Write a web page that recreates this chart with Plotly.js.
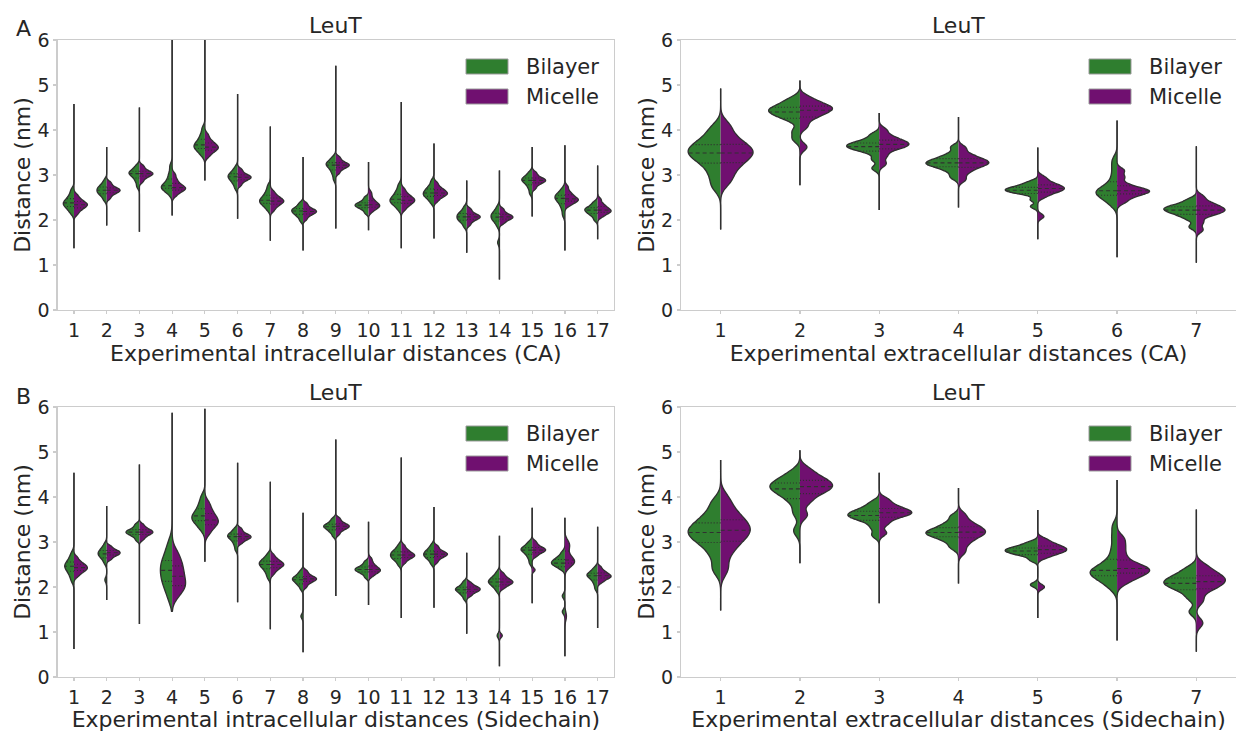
<!DOCTYPE html>
<html><head><meta charset="utf-8">
<script src="https://cdn.plot.ly/plotly-3.0.1.min.js"></script>
<style>html,body{margin:0;padding:0;background:#fff}#chart{width:1236px;height:732px}</style>
</head><body><div id="chart"></div>
<script>
// ---------------- data ----------------
const intraCats = [1,2,3,4,5,6,7,8,9,10,11,12,13,14,15,16,17];
const extraCats = [1,2,3,4,5,6,7];
const groupNames = ['Bilayer','Micelle'];
const panelTitle = 'LeuT';
const panelLetters = ['A','B'];
const yTitle = 'Distance (nm)';
const xTitles = ['Experimental intracellular distances (CA)','Experimental extracellular distances (CA)',
                 'Experimental intracellular distances (Sidechain)','Experimental extracellular distances (Sidechain)'];
const yTicks = [0,1,2,3,4,5,6];

// A, intracellular (CA): tail extent and sample values per distance (nm)
const caIntraMin = [1.37,1.88,1.74,2.10,2.88,2.03,1.54,1.32,1.81,1.77,1.37,1.59,1.27,0.68,2.08,1.32,1.57];
const caIntraMax = [4.58,3.62,4.50,6.20,6.20,4.80,4.08,3.40,5.43,3.29,4.62,3.70,2.88,3.10,3.62,3.66,3.21];
const caIntraBilayer = [
[2.15,2.23,2.28,2.32,2.35,2.38,2.41,2.45,2.50,2.57,2.67],
[2.44,2.52,2.57,2.60,2.63,2.66,2.69,2.72,2.75,2.80,2.88],
[2.74,2.84,2.91,2.96,3.00,3.03,3.05,3.07,3.10,3.15,3.21],
[2.58,2.65,2.69,2.72,2.74,2.76,2.81,2.87,2.95,3.05,3.20],
[3.44,3.52,3.57,3.61,3.64,3.67,3.71,3.76,3.83,3.91,4.04],
[2.70,2.79,2.85,2.89,2.93,2.96,2.98,3.01,3.05,3.09,3.17],
[2.23,2.31,2.35,2.39,2.42,2.44,2.48,2.52,2.58,2.65,2.76],
[1.98,2.06,2.11,2.14,2.17,2.20,2.22,2.24,2.27,2.32,2.38],
[2.90,3.01,3.08,3.14,3.18,3.22,3.24,3.26,3.29,3.34,3.40],
[2.15,2.22,2.26,2.29,2.31,2.33,2.35,2.37,2.40,2.45,2.51],
[2.24,2.32,2.37,2.40,2.43,2.46,2.50,2.54,2.60,2.67,2.78],
[2.38,2.46,2.51,2.54,2.57,2.60,2.63,2.67,2.71,2.77,2.87],
[1.85,1.93,1.98,2.01,2.04,2.07,2.10,2.13,2.16,2.21,2.29],
[1.50,1.86,1.94,1.99,2.02,2.05,2.08,2.11,2.14,2.17,2.22,2.30],
[2.59,2.69,2.76,2.81,2.85,2.88,2.90,2.92,2.95,3.00,3.06],
[2.11,2.24,2.33,2.39,2.44,2.48,2.50,2.53,2.57,2.61,2.69],
[2.00,2.08,2.13,2.16,2.19,2.22,2.24,2.26,2.29,2.34,2.40]
];
const caIntraMicelle = [
[2.13,2.21,2.25,2.29,2.32,2.34,2.36,2.39,2.43,2.47,2.55],
[2.48,2.55,2.59,2.62,2.64,2.66,2.68,2.70,2.73,2.78,2.84],
[2.85,2.92,2.96,2.99,3.01,3.03,3.05,3.07,3.10,3.15,3.21],
[2.54,2.61,2.65,2.68,2.70,2.72,2.75,2.79,2.84,2.91,3.01],
[3.41,3.49,3.53,3.57,3.60,3.62,3.65,3.69,3.73,3.79,3.89],
[2.77,2.84,2.88,2.91,2.93,2.95,2.97,2.99,3.02,3.07,3.13],
[2.21,2.29,2.33,2.37,2.40,2.42,2.44,2.47,2.51,2.55,2.63],
[2.01,2.08,2.12,2.15,2.17,2.19,2.21,2.23,2.26,2.31,2.37],
[3.04,3.11,3.15,3.18,3.20,3.22,3.24,3.26,3.29,3.34,3.40],
[2.18,2.23,2.27,2.29,2.31,2.33,2.35,2.38,2.42,2.46,2.54,2.62],
[2.23,2.31,2.35,2.39,2.42,2.44,2.47,2.50,2.54,2.59,2.68],
[2.42,2.49,2.53,2.56,2.58,2.60,2.63,2.66,2.69,2.74,2.82],
[1.89,1.96,2.00,2.03,2.05,2.07,2.09,2.11,2.14,2.19,2.25],
[1.92,1.97,2.01,2.03,2.05,2.07,2.09,2.11,2.14,2.19,2.25],
[2.70,2.77,2.81,2.84,2.86,2.88,2.90,2.92,2.95,3.00,3.06],
[2.32,2.37,2.41,2.43,2.45,2.47,2.50,2.54,2.58,2.64,2.74],
[2.07,2.12,2.16,2.18,2.20,2.22,2.25,2.28,2.32,2.37,2.46]
];

// A, extracellular (CA)
const caExtraMin = [1.79,2.77,2.22,2.28,1.57,1.17,1.05];
const caExtraMax = [4.92,5.10,4.38,4.29,3.61,4.21,3.64];
const caExtraBilayer = [
[2.75,3.00,3.20,3.33,3.42,3.49,3.56,3.63,3.72,3.85,4.05],
[3.80,3.98,4.22,4.30,4.36,4.40,4.44,4.48,4.53,4.60,4.70],
[3.15,3.35,3.50,3.56,3.60,3.63,3.66,3.69,3.73,3.79,3.90],
[2.95,3.08,3.16,3.21,3.24,3.27,3.30,3.34,3.39,3.47,3.62],
[2.30,2.45,2.57,2.61,2.64,2.66,2.68,2.71,2.74,2.78,2.85],
[2.33,2.43,2.50,2.55,2.59,2.62,2.65,2.69,2.75,2.85,3.00,3.18,3.35],
[1.85,2.02,2.10,2.15,2.19,2.22,2.25,2.28,2.31,2.36,2.45]
];
const caExtraMicelle = [
[2.85,3.06,3.22,3.33,3.42,3.49,3.56,3.63,3.73,3.88,4.10],
[3.62,4.08,4.25,4.33,4.39,4.44,4.48,4.51,4.55,4.62,4.72],
[3.25,3.42,3.55,3.61,3.65,3.68,3.71,3.75,3.80,3.87,4.00],
[2.90,3.05,3.14,3.20,3.24,3.27,3.30,3.34,3.39,3.46,3.60],
[2.08,2.52,2.60,2.64,2.67,2.70,2.73,2.76,2.80,2.86,2.95],
[2.40,2.50,2.56,2.60,2.63,2.65,2.68,2.72,2.80,2.95,3.10],
[1.78,1.95,2.10,2.15,2.19,2.22,2.25,2.29,2.34,2.40,2.52]
];

// B, intracellular (Sidechain)
const scIntraMin = [0.62,1.71,1.18,1.46,2.56,1.66,1.06,0.55,1.80,1.60,1.31,1.54,0.96,0.24,1.64,0.46,1.09];
const scIntraMax = [4.54,3.80,4.72,5.87,5.96,4.76,4.34,3.65,5.28,3.45,4.88,3.78,2.76,3.14,3.76,3.54,3.34];
const scIntraBilayer = [
[2.14,2.25,2.32,2.38,2.42,2.46,2.49,2.53,2.58,2.65,2.75],
[2.16,2.53,2.61,2.66,2.69,2.72,2.75,2.77,2.80,2.84,2.88,2.96],
[3.04,3.11,3.15,3.18,3.20,3.22,3.24,3.26,3.29,3.34,3.40],
[1.75,1.95,2.08,2.17,2.27,2.37,2.45,2.54,2.64,2.78,2.98],
[3.28,3.38,3.45,3.50,3.54,3.58,3.63,3.70,3.78,3.88,4.02],
[2.83,2.93,3.00,3.05,3.09,3.12,3.14,3.16,3.19,3.24,3.30],
[2.21,2.31,2.38,2.43,2.47,2.50,2.53,2.56,2.59,2.64,2.72],
[1.35,1.96,2.04,2.08,2.12,2.15,2.17,2.19,2.21,2.24,2.29,2.35],
[3.13,3.21,3.25,3.29,3.32,3.34,3.36,3.38,3.41,3.46,3.52],
[2.21,2.28,2.32,2.35,2.37,2.39,2.41,2.43,2.46,2.51,2.57],
[2.49,2.57,2.62,2.65,2.68,2.71,2.74,2.77,2.80,2.85,2.93],
[2.51,2.59,2.64,2.67,2.70,2.73,2.75,2.78,2.82,2.86,2.94],
[1.73,1.81,1.85,1.89,1.92,1.94,1.96,1.98,2.01,2.06,2.12],
[0.92,1.91,1.99,2.03,2.07,2.10,2.12,2.14,2.17,2.21,2.25,2.33],
[2.53,2.63,2.70,2.75,2.79,2.82,2.84,2.86,2.89,2.94,3.00],
[1.45,1.80,2.40,2.45,2.49,2.51,2.53,2.55,2.58,2.61,2.64,2.69,2.77],
[1.96,2.06,2.13,2.18,2.22,2.25,2.27,2.29,2.32,2.37,2.43]
];
const scIntraMicelle = [
[2.24,2.31,2.35,2.38,2.41,2.43,2.46,2.49,2.52,2.57,2.65],
[2.61,2.66,2.70,2.72,2.74,2.76,2.78,2.80,2.82,2.86,2.91],
[3.05,3.11,3.15,3.18,3.20,3.22,3.24,3.26,3.29,3.33,3.39],
[1.80,1.93,2.00,2.06,2.14,2.24,2.32,2.42,2.52,2.63,2.78],
[3.18,3.29,3.36,3.41,3.45,3.49,3.54,3.60,3.67,3.76,3.88],
[2.97,3.02,3.06,3.08,3.10,3.12,3.14,3.16,3.19,3.24,3.30],
[2.29,2.37,2.41,2.45,2.48,2.50,2.52,2.55,2.59,2.63,2.71],
[2.00,2.07,2.11,2.14,2.16,2.18,2.20,2.22,2.25,2.30,2.36],
[3.17,3.24,3.28,3.31,3.33,3.35,3.37,3.39,3.42,3.47,3.53],
[2.24,2.29,2.33,2.35,2.37,2.39,2.42,2.45,2.49,2.55,2.63],
[2.53,2.60,2.64,2.67,2.69,2.71,2.73,2.76,2.80,2.84,2.92],
[2.55,2.62,2.66,2.69,2.71,2.73,2.75,2.77,2.80,2.85,2.91],
[1.80,1.85,1.89,1.91,1.93,1.95,1.97,1.99,2.01,2.05,2.10],
[0.92,1.97,2.02,2.06,2.08,2.10,2.12,2.14,2.17,2.20,2.25,2.31],
[2.38,2.68,2.73,2.77,2.79,2.81,2.83,2.85,2.87,2.90,2.95,3.01],
[1.35,2.46,2.50,2.53,2.56,2.58,2.60,2.63,2.70,2.80,2.90,2.95,3.00],
[2.10,2.15,2.19,2.21,2.23,2.25,2.27,2.30,2.33,2.37,2.44]
];

// B, extracellular (Sidechain)
const scExtraMin = [1.48,2.53,1.64,2.08,1.31,0.81,0.56];
const scExtraMax = [4.82,5.04,4.54,4.20,3.71,4.38,3.72];
const scExtraBilayer = [
[2.40,2.72,2.93,3.05,3.14,3.21,3.29,3.37,3.48,3.63,3.88],
[3.25,3.65,3.90,4.03,4.12,4.18,4.23,4.28,4.34,4.42,4.55],
[3.15,3.32,3.45,3.51,3.56,3.59,3.62,3.66,3.71,3.77,3.88],
[2.88,3.01,3.09,3.14,3.18,3.21,3.24,3.29,3.35,3.43,3.57],
[2.05,2.60,2.70,2.74,2.77,2.80,2.82,2.85,2.88,2.92,2.99],
[1.98,2.10,2.18,2.24,2.28,2.32,2.35,2.39,2.44,2.52,2.65,2.85,3.10,3.35],
[1.45,1.75,1.90,1.98,2.04,2.08,2.12,2.17,2.23,2.30,2.42]
];
const scExtraMicelle = [
[2.40,2.75,2.95,3.08,3.18,3.26,3.34,3.44,3.55,3.70,3.95],
[3.60,3.88,4.03,4.12,4.18,4.23,4.28,4.34,4.40,4.48,4.62],
[3.20,3.40,3.52,3.58,3.62,3.65,3.68,3.72,3.77,3.84,3.95],
[2.78,2.95,3.06,3.13,3.18,3.22,3.26,3.31,3.37,3.45,3.60],
[2.00,2.66,2.73,2.77,2.80,2.83,2.86,2.89,2.93,2.98,3.06],
[2.10,2.20,2.27,2.32,2.36,2.39,2.43,2.48,2.56,2.72,2.90,3.08],
[1.20,1.70,1.92,2.00,2.07,2.12,2.17,2.22,2.28,2.36,2.48]
];

// ---------------- styling / helpers ----------------
const W = 1236, H = 732;
const FONT = 'DejaVu Sans';
const TXT = '#262626';
const COLORS = ['#2f7e2f', '#701070'];
const EDGE = '#303030';
const SPINE = '#cccccc';
const HALF = 0.41;      // max half-width of a violin, in category units
const BW_FACTOR = 0.73; // bandwidth relative to Silverman's rule
const px = v => v / W;
const py = v => 1 - v / H;

function quantile(sorted, p) {
  const idx = (sorted.length - 1) * p, lo = Math.floor(idx), hi = Math.ceil(idx);
  return sorted[lo] + (sorted[hi] - sorted[lo]) * (idx - lo);
}
function silverman(vals) {
  const s = vals.slice().sort((a, b) => a - b), n = s.length;
  const m = s.reduce((a, b) => a + b, 0) / n;
  const sd = Math.sqrt(s.reduce((a, b) => a + (b - m) * (b - m), 0) / (n - 1));
  const iqr = quantile(s, 0.75) - quantile(s, 0.25);
  return 1.059 * Math.min(sd, iqr / 1.349) * Math.pow(n, -0.2);
}
function kde(vals, bw, t) {
  let s = 0;
  for (const v of vals) { const z = (t - v) / bw; s += Math.exp(-0.5 * z * z); }
  return s / (vals.length * bw * Math.sqrt(2 * Math.PI));
}
function peak(vals, bw, span) {
  const dist = span[1] - span[0], n = Math.ceil(dist / (bw / 3)), step = dist / n;
  let m = 0;
  for (let t = span[0]; t < span[1] + step / 2; t += step) m = Math.max(m, kde(vals, bw, t));
  return m;
}

const panels = [
  {cats: intraCats, lo: caIntraMin, hi: caIntraMax, sets: [caIntraBilayer, caIntraMicelle], ax: ''},
  {cats: extraCats, lo: caExtraMin, hi: caExtraMax, sets: [caExtraBilayer, caExtraMicelle], ax: '2'},
  {cats: intraCats, lo: scIntraMin, hi: scIntraMax, sets: [scIntraBilayer, scIntraMicelle], ax: '3'},
  {cats: extraCats, lo: scExtraMin, hi: scExtraMax, sets: [scExtraBilayer, scExtraMicelle], ax: '4'}
];

const traces = [];
panels.forEach((p) => {
  const medX = [], medY = [], qX = [], qY = [];
  p.cats.forEach((c, i) => {
    const span = [p.lo[i], p.hi[i]];
    const info = p.sets.map(set => {
      const vals = set[i];
      const bw = BW_FACTOR * silverman(vals);
      return {vals, bw, pk: peak(vals, bw, span)};
    });
    const maxPk = Math.max(info[0].pk, info[1].pk);
    info.forEach((h, g) => {
      const hw = HALF * h.pk / maxPk;
      const sgn = g === 0 ? -1 : 1;
      traces.push({
        type: 'violin', x0: c, y: h.vals, name: groupNames[g],
        xaxis: 'x' + p.ax, yaxis: 'y' + p.ax,
        side: g === 0 ? 'negative' : 'positive',
        width: 2 * hw, scalemode: 'width',
        spanmode: 'manual', span: span, bandwidth: h.bw,
        points: false, box: {visible: false}, meanline: {visible: false},
        fillcolor: COLORS[g], line: {color: EDGE, width: 1.35},
        showlegend: false, hoverinfo: 'skip'
      });
      const s = h.vals.slice().sort((a, b) => a - b);
      [0.25, 0.5, 0.75].forEach(q => {
        const y = quantile(s, q);
        const len = hw * kde(h.vals, h.bw, y) / h.pk;
        const X = q === 0.5 ? medX : qX, Y = q === 0.5 ? medY : qY;
        X.push(c, c + sgn * len, null); Y.push(y, y, null);
      });
    });
  });
  traces.push({type: 'scatter', mode: 'lines', x: medX, y: medY, xaxis: 'x' + p.ax, yaxis: 'y' + p.ax,
    line: {color: EDGE, width: 1.1, dash: '4px,3px'}, showlegend: false, hoverinfo: 'skip'});
  traces.push({type: 'scatter', mode: 'lines', x: qX, y: qY, xaxis: 'x' + p.ax, yaxis: 'y' + p.ax,
    line: {color: EDGE, width: 1.1, dash: '1px,2px'}, showlegend: false, hoverinfo: 'skip'});
});

// ---------------- layout ----------------
const xDom = [[57.6 / W, 614 / W], [681 / W, 1]];
const yDom = [[py(310), py(40)], [py(677), py(407)]];
const layout = {
  width: W, height: H, margin: {l: 0, r: 0, t: 0, b: 0},
  paper_bgcolor: '#fff', plot_bgcolor: '#fff',
  showlegend: false, hovermode: false,
  violinmode: 'overlay', violingap: 0, violingroupgap: 0,
  font: {family: FONT, color: TXT, size: 20},
  annotations: [], shapes: []
};
panels.forEach((p, pi) => {
  const col = pi % 2, row = Math.floor(pi / 2);
  layout['xaxis' + p.ax] = {
    domain: xDom[col], anchor: 'y' + p.ax, range: [0.5, p.cats.length + 0.5],
    tickmode: 'array', tickvals: p.cats, ticktext: p.cats.map(String),
    showline: true, mirror: true, linecolor: SPINE, linewidth: 1.2,
    ticks: 'outside', ticklen: 3, tickcolor: SPINE, tickwidth: 1.2,
    showgrid: false, zeroline: false,
    tickfont: {family: FONT, size: 19, color: TXT},
    title: {text: xTitles[pi], font: {family: FONT, size: 22, color: TXT}, standoff: 1}
  };
  layout['yaxis' + p.ax] = {
    domain: yDom[row], anchor: 'x' + p.ax, range: [0, 6],
    tickmode: 'array', tickvals: yTicks, ticktext: yTicks.map(String),
    showline: true, mirror: true, linecolor: SPINE, linewidth: 1.2,
    ticks: 'outside', ticklen: 3, tickcolor: SPINE, tickwidth: 1.2,
    showgrid: false, zeroline: false,
    tickfont: {family: FONT, size: 19, color: TXT},
    title: {text: yTitle, font: {family: FONT, size: 22, color: TXT}, standoff: 0}
  };

  const xc = (xDom[col][0] + xDom[col][1]) / 2;
  const topPx = row === 0 ? 40 : 407;
  layout.annotations.push({xref: 'paper', yref: 'paper', x: xc, y: py(topPx), xanchor: 'center', yanchor: 'bottom',
    text: panelTitle, showarrow: false, font: {family: FONT, size: 22, color: TXT}});

  // legend patches (Bilayer / Micelle)
  const lx = col === 0 ? 466 : 1089;
  groupNames.forEach((g, gi) => {
    const top = topPx + 19 + gi * 30;
    layout.shapes.push({type: 'rect', xref: 'paper', yref: 'paper', x0: px(lx), x1: px(lx + 42),
      y0: py(top + 15), y1: py(top), fillcolor: COLORS[gi], line: {color: '#9a9a9a', width: 1}});
    layout.annotations.push({xref: 'paper', yref: 'paper', x: px(lx + 58), y: py(top + 7.5), xanchor: 'left', yanchor: 'middle',
      text: g, showarrow: false, font: {family: FONT, size: 21, color: TXT}});
  });
});
panelLetters.forEach((L, i) => {
  layout.annotations.push({xref: 'paper', yref: 'paper', x: px(24), y: py(i === 0 ? 28 : 396), xanchor: 'center', yanchor: 'middle',
    text: L, showarrow: false, font: {family: FONT, size: 22, color: TXT}});
});

Plotly.newPlot('chart', traces, layout, {staticPlot: true, displayModeBar: false});
</script>
</body></html>
